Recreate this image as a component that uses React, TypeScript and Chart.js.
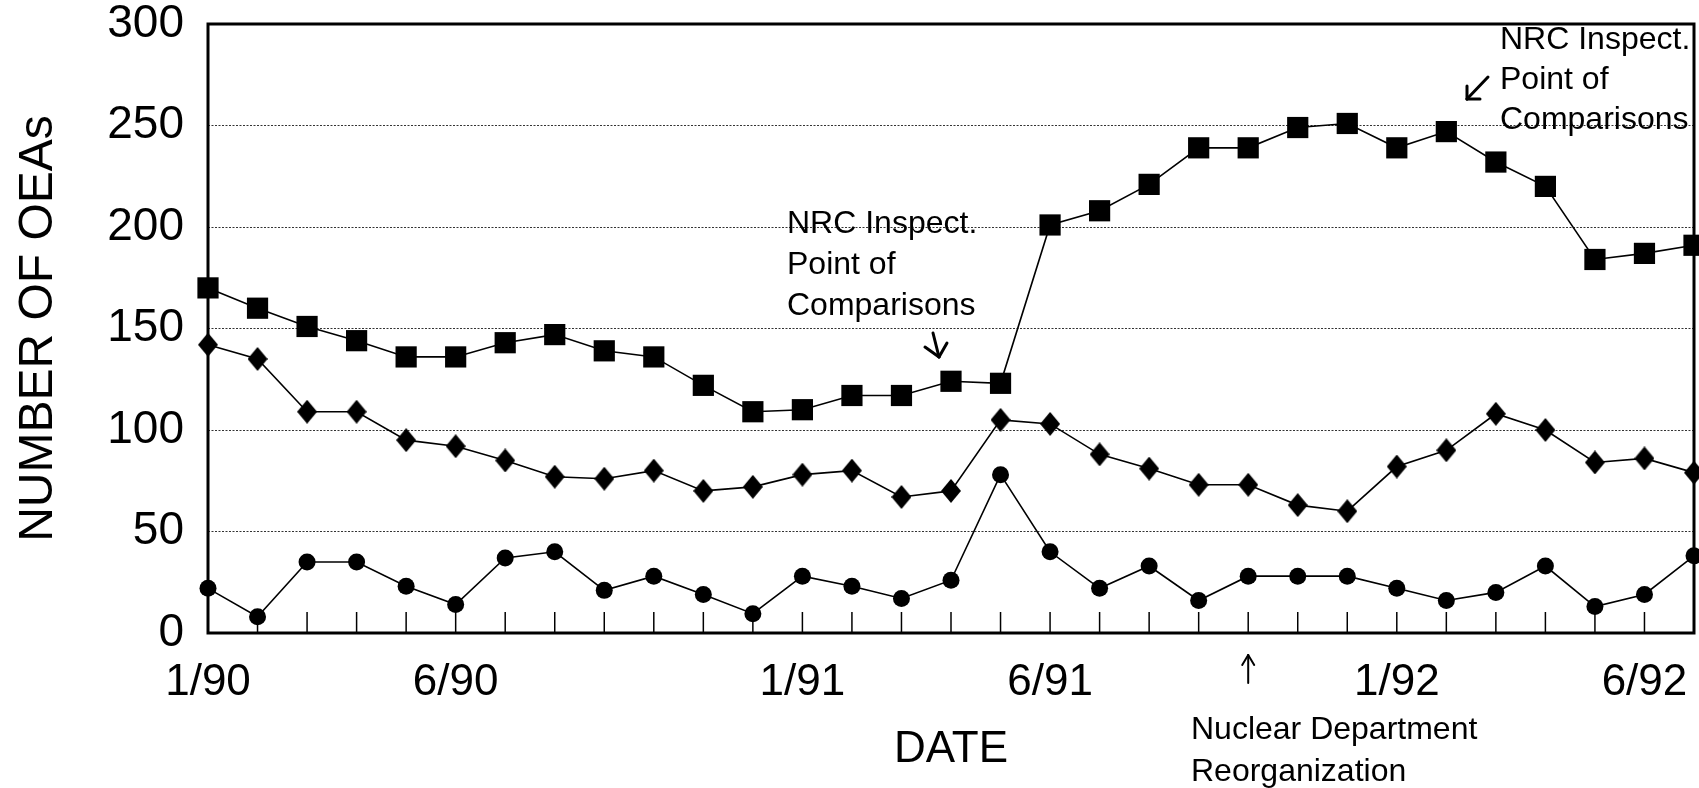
import React, { useEffect, useRef } from 'react';
import { Chart, registerables } from 'chart.js';

Chart.register(...registerables);

const months = [
  '1/90', '2/90', '3/90', '4/90', '5/90', '6/90', '7/90', '8/90', '9/90', '10/90', '11/90', '12/90',
  '1/91', '2/91', '3/91', '4/91', '5/91', '6/91', '7/91', '8/91', '9/91', '10/91', '11/91', '12/91',
  '1/92', '2/92', '3/92', '4/92', '5/92', '6/92', '7/92',
];

const xTickLabels = ['1/90', '6/90', '1/91', '6/91', '1/92', '6/92'];

const squareSeries = [170, 160, 151, 144, 136, 136, 143, 147, 139, 136, 122, 109, 110, 117, 117, 124, 123, 201, 208, 221, 239, 239, 249, 251, 239, 247, 232, 220, 184, 187, 191];
const diamondSeries = [142, 135, 109, 109, 95, 92, 85, 77, 76, 80, 70, 72, 78, 80, 67, 70, 105, 103, 88, 81, 73, 73, 63, 60, 82, 90, 108, 100, 84, 86, 79];
const circleSeries = [22, 8, 35, 35, 23, 14, 37, 40, 21, 28, 19, 9.5, 28, 23, 17, 26, 78, 40, 22, 33, 16, 28, 28, 28, 22, 16, 20, 33, 13, 19, 38];

const yMin = 0;
const yMax = 300;
const yStep = 50;

const annoMiddle = ['NRC Inspect.', 'Point of', 'Comparisons'];
const annoRight = ['NRC Inspect.', 'Point of', 'Comparisons'];
const annoBottom = ['Nuclear Department', 'Reorganization'];

const FONT = "'Liberation Sans', Arial, Helvetica, sans-serif";

function makeDiamond(w: number, h: number): HTMLCanvasElement {
  const c = document.createElement('canvas');
  c.width = w;
  c.height = h;
  const g = c.getContext('2d')!;
  g.fillStyle = '#000';
  g.beginPath();
  g.moveTo(w / 2, 0);
  g.lineTo(w, h / 2);
  g.lineTo(w / 2, h);
  g.lineTo(0, h / 2);
  g.closePath();
  g.fill();
  return c;
}

function line(ctx: CanvasRenderingContext2D, x1: number, y1: number, x2: number, y2: number) {
  ctx.beginPath();
  ctx.moveTo(x1, y1);
  ctx.lineTo(x2, y2);
  ctx.stroke();
}

const decorPlugin = {
  id: 'decor',
  beforeDatasetsDraw(chart: any) {
    const { ctx, chartArea: a, scales } = chart;
    const x = scales.x;
    ctx.save();
    ctx.strokeStyle = '#000';
    ctx.lineWidth = 1.5;
    for (let i = 1; i < months.length - 1; i++) {
      const px = x.getPixelForValue(i);
      line(ctx, px, a.bottom, px, a.bottom - 21);
    }
    ctx.lineWidth = 3;
    ctx.strokeRect(a.left, a.top, a.right - a.left, a.bottom - a.top);
    ctx.restore();
  },
  afterDraw(chart: any) {
    const { ctx } = chart;
    ctx.save();
    ctx.fillStyle = '#000';
    ctx.strokeStyle = '#000';
    ctx.font = `32px ${FONT}`;
    ctx.textAlign = 'left';
    ctx.textBaseline = 'alphabetic';
    annoMiddle.forEach((t, i) => ctx.fillText(t, 787, 233 + i * 41));
    annoRight.forEach((t, i) => ctx.fillText(t, 1500, 49 + i * 40));
    annoBottom.forEach((t, i) => ctx.fillText(t, 1191, 739 + i * 42));

    ctx.lineWidth = 3;
    ctx.lineCap = 'round';
    // middle arrow (pointing down)
    line(ctx, 933, 333, 939, 357);
    line(ctx, 925, 347, 939, 357);
    line(ctx, 947, 343, 939, 357);
    // right arrow (pointing down-left)
    line(ctx, 1488, 77, 1467, 99);
    line(ctx, 1467, 99, 1467, 86);
    line(ctx, 1467, 99, 1480, 99);
    // bottom arrow (pointing up)
    const ax = chart.scales.x.getPixelForValue(21);
    ctx.lineWidth = 2;
    line(ctx, ax, 655, ax, 683);
    line(ctx, ax, 655, ax - 6, 665);
    line(ctx, ax, 655, ax + 6, 665);
    ctx.restore();
  },
};

export default function App() {
  const ref = useRef<HTMLCanvasElement | null>(null);

  useEffect(() => {
    if (!ref.current) return;
    const diamond = makeDiamond(20, 24);
    const common = {
      borderColor: '#000',
      borderWidth: 1.6,
      backgroundColor: '#000',
      pointBackgroundColor: '#000',
      pointBorderColor: '#000',
      pointBorderWidth: 0,
      tension: 0,
      clip: false as any,
    };
    const chart = new Chart(ref.current, {
      type: 'line',
      data: {
        labels: months,
        datasets: [
          { ...common, label: 'Squares', data: squareSeries, pointStyle: 'rect', pointRadius: 15, pointHoverRadius: 15 },
          { ...common, label: 'Diamonds', data: diamondSeries, pointStyle: diamond as any, pointRadius: 12, pointHoverRadius: 12 },
          { ...common, label: 'Circles', data: circleSeries, pointStyle: 'circle', pointRadius: 8.5, pointHoverRadius: 8.5 },
        ],
      },
      options: {
        responsive: false,
        animation: false,
        events: [],
        layout: { autoPadding: false, padding: { top: 24, right: 5, left: 0, bottom: 0 } },
        plugins: {
          legend: { display: false },
          tooltip: { enabled: false },
        },
        scales: {
          x: {
            type: 'category',
            offset: false,
            grid: { display: false, drawTicks: false },
            border: { display: false },
            ticks: {
              autoSkip: false,
              maxRotation: 0,
              minRotation: 0,
              padding: 23,
              color: '#000',
              font: { family: FONT, size: 44 },
              callback: (_v: any, i: number) => (xTickLabels.includes(months[i]) ? months[i] : ''),
            },
            title: {
              display: true,
              text: 'DATE',
              color: '#000',
              font: { family: FONT, size: 44 },
              padding: { top: 0, bottom: 12 },
            },
            afterFit: (s: any) => {
              s.height = 155;
              s.paddingLeft = 0;
              s.paddingRight = 0;
            },
          },
          y: {
            min: yMin,
            max: yMax,
            grid: {
              drawTicks: false,
              lineWidth: 1,
              color: (c: any) => (c.tick && (c.tick.value === yMin || c.tick.value === yMax) ? 'rgba(0,0,0,0)' : '#333'),
            },
            border: { display: false, dash: [2, 1.5] },
            ticks: {
              stepSize: yStep,
              padding: 24,
              color: '#000',
              font: { family: FONT, size: 46 },
            },
            title: {
              display: true,
              text: 'NUMBER OF OEAs',
              color: '#000',
              font: { family: FONT, size: 48 },
              padding: { top: 10, bottom: 0 },
            },
            afterFit: (s: any) => {
              s.width = 208;
              s.paddingTop = 0;
              s.paddingBottom = 0;
            },
          },
        },
      },
      plugins: [decorPlugin],
    });
    return () => chart.destroy();
  }, []);

  return (
    <div style={{ position: 'absolute', left: 0, top: 0, width: 1699, height: 788, background: '#fff' }}>
      <canvas ref={ref} width={1699} height={788} style={{ display: 'block' }} />
    </div>
  );
}
